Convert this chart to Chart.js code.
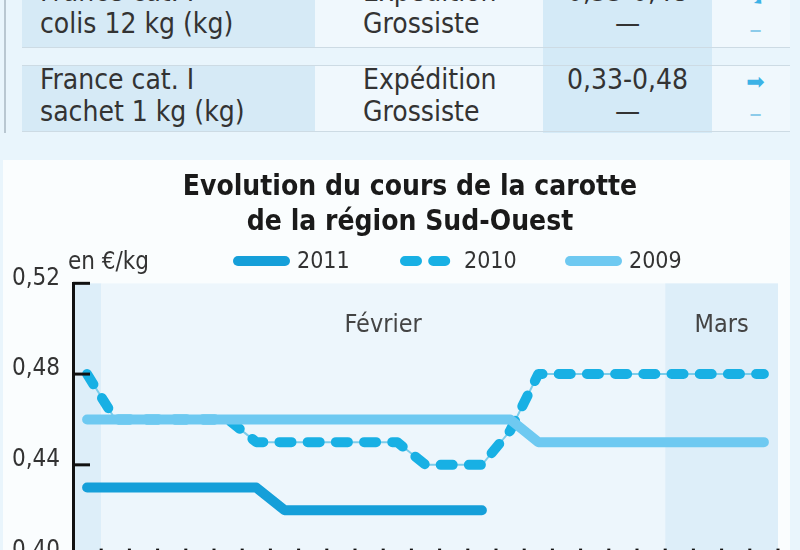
<!DOCTYPE html>
<html>
<head>
<meta charset="utf-8">
<script src="https://cdn.jsdelivr.net/npm/chart.js@4.4.1/dist/chart.umd.min.js"></script>
<style>
  body { margin: 0; width: 800px; height: 550px; overflow: hidden; position: relative;
         background: #e9f5fc; font-family: "Liberation Sans Narrow", "DejaVu Sans Condensed", sans-serif; color: #333; }
  .bg { position: absolute; }
  .txt { position: absolute; font-size: 28px; line-height: 32px; white-space: nowrap; }
  .hr { position: absolute; left: 22px; width: 768px; height: 1px; background: #cddbe4; }
  .arrow { font-family: "DejaVu Sans", sans-serif; color: #3cb2e6; font-size: 22px; }
  .dash { color: #8ccbea; }
  #panel { position: absolute; left: 3px; top: 160px; width: 787px; height: 400px; background: #fafdfe; }
  #wrap { position: absolute; left: 0; top: 165px; width: 800px; height: 418px; }
</style>
</head>
<body>
<!-- morceau du tableau de prix au-dessus du graphique -->
<div class="bg" style="left:4px;top:0;width:2px;height:133px;background:#b9c7d1"></div>
<div class="bg" style="left:22px;top:0;width:293px;height:47px;background:#d6eaf6"></div>
<div class="bg" style="left:22px;top:65px;width:293px;height:66px;background:#d6eaf6"></div>
<div class="bg" style="left:315px;top:0;width:228px;height:47px;background:#f0f8fd"></div>
<div class="bg" style="left:315px;top:65px;width:228px;height:66px;background:#f0f8fd"></div>
<div class="bg" style="left:543px;top:0;width:169px;height:133px;background:#d4eaf7"></div>
<div class="bg" style="left:712px;top:0;width:78px;height:47px;background:#f0f8fd"></div>
<div class="bg" style="left:712px;top:65px;width:78px;height:66px;background:#f0f8fd"></div>
<div class="hr" style="top:47px"></div>
<div class="hr" style="top:65px"></div>
<div class="hr" style="top:131px"></div>

<div class="txt" style="left:40px;top:-24px">France cat. I<br>colis 12 kg (kg)</div>
<div class="txt" style="left:363px;top:-24px">Expédition<br>Grossiste</div>
<div class="txt" style="left:543px;width:169px;text-align:center;top:-24px">0,33-0,48<br>—</div>
<div class="txt" style="left:718px;width:75px;text-align:center;top:-20px"><span class="arrow">➘</span><br><span class="dash">–</span></div>

<div class="txt" style="left:40px;top:64px">France cat. I<br>sachet 1 kg (kg)</div>
<div class="txt" style="left:363px;top:64px">Expédition<br>Grossiste</div>
<div class="txt" style="left:543px;width:169px;text-align:center;top:64px">0,33-0,48<br>—</div>
<div class="txt" style="left:718px;width:75px;text-align:center;top:64px"><span class="arrow">➡</span><br><span class="dash">–</span></div>

<div id="panel"></div>
<div id="wrap"><canvas id="chart" width="800" height="418"></canvas></div>

<script>
// jours de cotation (31 janvier -> 4 mars)
const labels = ['31/01',
  '01/02', '02/02', '03/02', '04/02', '07/02', '08/02', '09/02', '10/02', '11/02',
  '14/02', '15/02', '16/02', '17/02', '18/02', '21/02', '22/02', '23/02', '24/02', '25/02', '28/02',
  '01/03', '02/03', '03/03', '04/03'];

const prix2011 = [0.43, 0.43, 0.43, 0.43, 0.43, 0.43, 0.43, 0.42, 0.42, 0.42, 0.42, 0.42, 0.42, 0.42, 0.42,
  null, null, null, null, null, null, null, null, null, null];
const prix2010 = [0.48, 0.46, 0.46, 0.46, 0.46, 0.46, 0.45, 0.45, 0.45, 0.45, 0.45, 0.45, 0.44, 0.44, 0.44,
  0.455, 0.48, 0.48, 0.48, 0.48, 0.48, 0.48, 0.48, 0.48, 0.48];
const prix2009 = [0.46, 0.46, 0.46, 0.46, 0.46, 0.46, 0.46, 0.46, 0.46, 0.46, 0.46, 0.46, 0.46, 0.46, 0.46,
  0.46, 0.45, 0.45, 0.45, 0.45, 0.45, 0.45, 0.45, 0.45, 0.45];

const yTicks = [0.40, 0.44, 0.48, 0.52];
const moisNoms = { '02': 'Février', '03': 'Mars' };

const police = '"Liberation Sans Narrow", "DejaVu Sans Condensed", sans-serif';

const decor = {
  id: 'decor',
  afterLayout(chart) {
    // le titre est centré un peu plus à droite que le canvas
    chart.titleBlock.left += 17;
    chart.titleBlock.right += 17;
  },
  beforeDraw(chart) {
    const { ctx, chartArea: a, scales: { x } } = chart;
    const half = (x.getPixelForValue(1) - x.getPixelForValue(0)) / 2;
    let groupes = [];
    labels.forEach((l, i) => {
      const m = l.slice(3);
      const last = groupes[groupes.length - 1];
      if (!last || last.m !== m) groupes.push({ m: m, start: i, end: i });
      else last.end = i;
    });
    ctx.save();
    groupes.forEach(g => {
      const x0 = x.getPixelForValue(g.start) - half;
      const x1 = x.getPixelForValue(g.end) + half;
      ctx.fillStyle = g.m === '02' ? '#edf6fc' : '#ddeef9';
      ctx.fillRect(x0, a.top, x1 - x0, a.bottom - a.top);
      if (moisNoms[g.m]) {
        ctx.fillStyle = '#444';
        ctx.font = '25px ' + police;
        ctx.textAlign = 'center';
        ctx.textBaseline = 'middle';
        ctx.fillText(moisNoms[g.m], (x0 + x1) / 2, a.top + 42);
      }
    });
    ctx.restore();
  },
  afterDraw(chart) {
    const { ctx, chartArea: a, scales: { x, y } } = chart;
    const half = (x.getPixelForValue(1) - x.getPixelForValue(0)) / 2;
    ctx.save();
    ctx.strokeStyle = '#111';
    ctx.lineWidth = 3;
    yTicks.forEach(v => {
      const py = y.getPixelForValue(v);
      ctx.beginPath();
      ctx.moveTo(a.left, py);
      ctx.lineTo(a.left + 17, py);
      ctx.stroke();
    });
    labels.forEach((l, i) => {
      const px = x.getPixelForValue(i) + half;
      ctx.beginPath();
      ctx.moveTo(px, a.bottom - 7);
      ctx.lineTo(px, a.bottom + 2);
      ctx.stroke();
    });

    // legende
    ctx.textBaseline = 'middle';
    ctx.fillStyle = '#333';
    ctx.font = '24px ' + police;
    ctx.fillText('en €/kg', 68, 98);
    const legendX = [238, 405, 570];
    ctx.font = '23px ' + police;
    chart.data.datasets.slice(0, 3).forEach((ds, i) => {
      const sx = legendX[i], ly = 96;
      ctx.beginPath();
      ctx.setLineDash(ds.borderDash || []);
      ctx.lineCap = 'round';
      ctx.lineWidth = ds.borderWidth;
      ctx.strokeStyle = ds.borderColor;
      ctx.moveTo(sx, ly);
      ctx.lineTo(sx + 47, ly);
      ctx.stroke();
      ctx.setLineDash([]);
      ctx.fillText(ds.label, sx + 59, ly + 1);
    });
    ctx.restore();
  }
};

new Chart(document.getElementById('chart'), {
  type: 'line',
  data: {
    labels: labels,
    datasets: [
      { label: '2011', data: prix2011, borderColor: '#159fd9', borderWidth: 10,
        borderCapStyle: 'round', borderJoinStyle: 'round', pointRadius: 0, order: 0 },
      { label: '2010', data: prix2010, borderColor: '#18b0e4', borderWidth: 10, borderDash: [12, 16.2],
        borderCapStyle: 'round', borderJoinStyle: 'round', pointRadius: 0, order: 2 },
      { label: '2009', data: prix2009, borderColor: '#6ec9f1', borderWidth: 10,
        borderCapStyle: 'round', borderJoinStyle: 'round', pointRadius: 0, order: 1 },
      { label: '', data: prix2010, borderColor: '#7ccdeb', borderWidth: 2, pointRadius: 0, order: 3 }
    ]
  },
  options: {
    responsive: false,
    animation: false,
    devicePixelRatio: 1,
    layout: { padding: { left: 8, right: 22, top: 0, bottom: 0 } },
    plugins: {
      legend: { display: false },
      tooltip: { enabled: false },
      title: {
        display: true,
        text: ['Evolution du cours de la carotte', 'de la région Sud-Ouest'],
        color: '#1a1a1a',
        font: { family: police, size: 28, weight: 'bold', lineHeight: 1.22 },
        padding: { top: 6, bottom: 44 }
      }
    },
    scales: {
      x: { type: 'category', offset: true, display: false },
      y: {
        min: 0.40, max: 0.52,
        afterFit: s => { s.width = 65; },
        afterBuildTicks: s => { s.ticks = yTicks.map(v => ({ value: v })); },
        grid: { drawOnChartArea: false, drawTicks: false },
        border: { display: true, color: '#111', width: 3 },
        ticks: {
          color: '#333', padding: 13, labelOffset: -5,
          font: { family: police, size: 24 },
          callback: v => v.toFixed(2).replace('.', ',')
        }
      }
    }
  },
  plugins: [decor]
});
</script>
</body>
</html>
